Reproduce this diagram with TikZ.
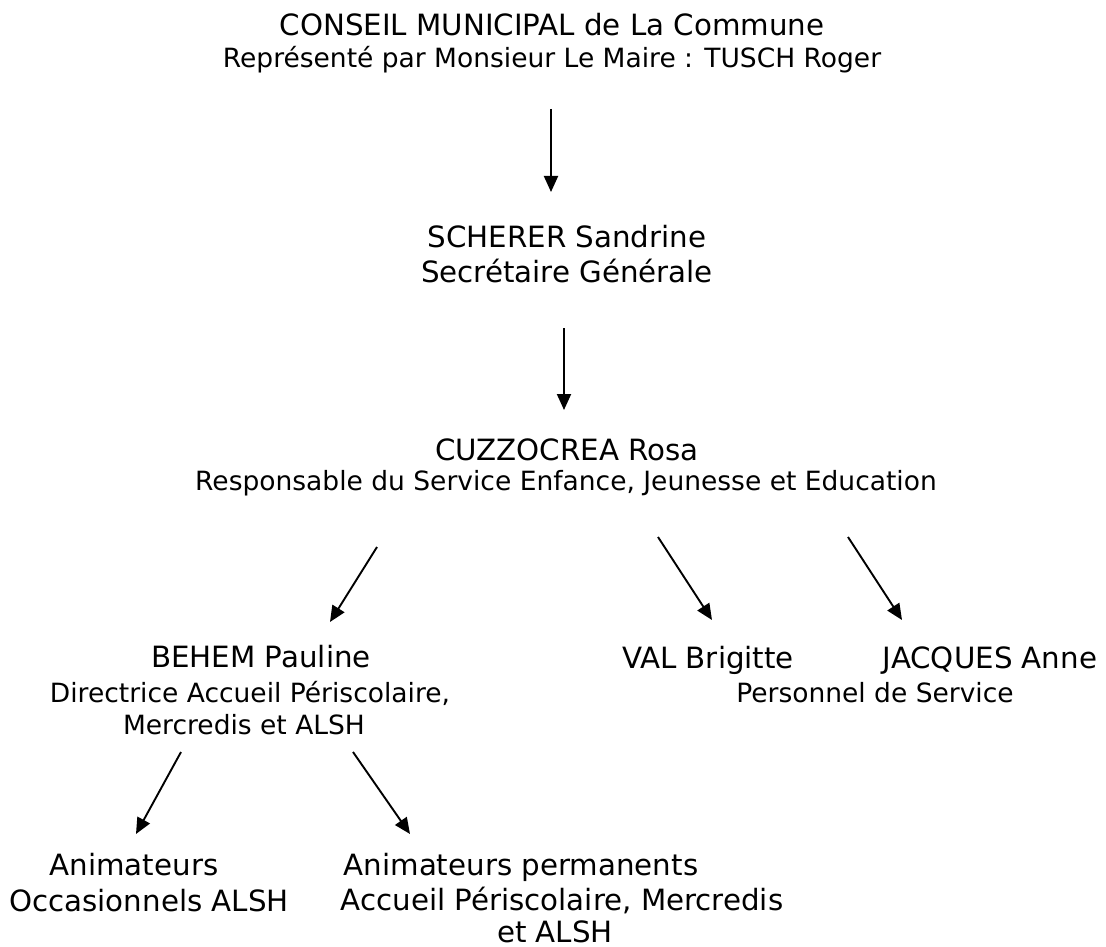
\documentclass[tikz,border=0pt]{standalone}
\usepackage{fontspec}
\setmainfont{DejaVu Sans}
\usetikzlibrary{arrows.meta}
\begin{document}
\begin{tikzpicture}[x=1pt,y=-1pt,
  big/.style={inner sep=0pt,anchor=base,font=\fontsize{29.3}{35}\selectfont},
  small/.style={inner sep=0pt,anchor=base,font=\fontsize{26.5}{32}\selectfont},
  arr/.style={line width=1.9pt,-{Triangle[length=16pt,width=14pt]}}]
\useasboundingbox (0,0) rectangle (1106,947);
\node[big] (t1) at (552,36) {CONSEIL MUNICIPAL de La Commune};
\node[small] (t2) at (552,68) {Représenté par Monsieur Le Maire : TUSCH Roger};
\coordinate (a1s) at (551,109); \coordinate (a1e) at (551,192);
\draw[arr] (a1s) -- (a1e);
\node[big] (s1) at (567,247) {SCHERER Sandrine};
\node[big] (s2) at (567,282) {Secrétaire Générale};
\coordinate (a2s) at (564,328); \coordinate (a2e) at (564,410);
\draw[arr] (a2s) -- (a2e);
\node[big] (c1) at (567,460) {CUZZOCREA Rosa};
\node[small] (c2) at (566,490) {Responsable du Service Enfance, Jeunesse et Education};
\coordinate (a3s) at (377,547); \coordinate (a3e) at (330,622);
\coordinate (a4s) at (658,537); \coordinate (a4e) at (712,620);
\coordinate (a5s) at (848,537); \coordinate (a5e) at (902,620);
\draw[arr] (a3s) -- (a3e);
\draw[arr] (a4s) -- (a4e);
\draw[arr] (a5s) -- (a5e);
\node[big] (b1) at (261,667) {BEHEM Pauline};
\node[small] (b2) at (250,702) {Directrice Accueil Périscolaire,};
\node[small] (b3) at (244,734) {Mercredis et ALSH};
\node[big] (v1) at (708,668) {VAL Brigitte};
\node[big] (j1) at (990,668) {JACQUES Anne};
\node[small] (p1) at (875,702) {Personnel de Service};
\coordinate (a6s) at (181,752); \coordinate (a6e) at (136,834);
\coordinate (a7s) at (353,752); \coordinate (a7e) at (410,834);
\draw[arr] (a6s) -- (a6e);
\draw[arr] (a7s) -- (a7e);
\node[big] (o1) at (134,875) {Animateurs};
\node[big] (o2) at (149,911) {Occasionnels ALSH};
\node[big] (m1) at (521,875) {Animateurs permanents};
\node[big] (m2) at (562,910) {Accueil Périscolaire, Mercredis};
\node[big] (m3) at (555,942) {et ALSH};
\end{tikzpicture}
\end{document}
